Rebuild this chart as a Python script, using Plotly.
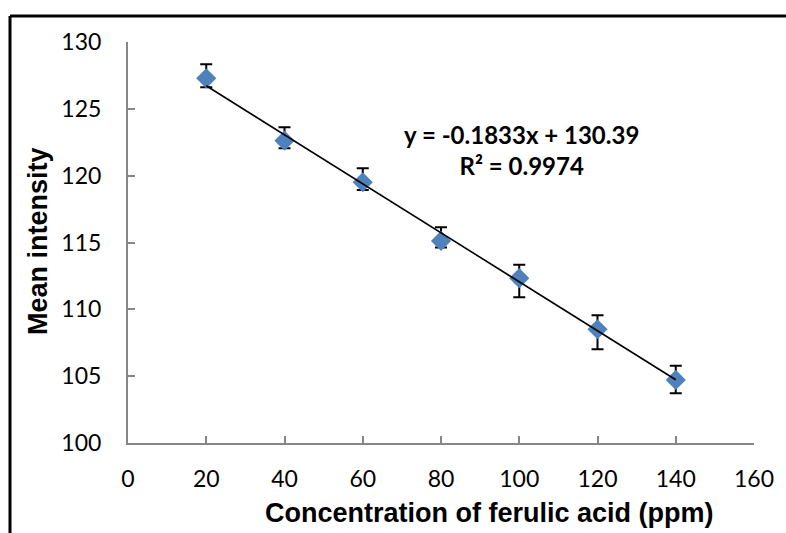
import plotly.graph_objects as go

# Data
concentration = [20, 40, 60, 80, 100, 120, 140]
mean_intensity = [127.28, 122.62, 119.51, 115.12, 112.33, 108.51, 104.72]
err_plus = [1.05, 1.00, 1.04, 1.02, 1.00, 1.05, 1.05]
err_minus = [0.67, 0.57, 0.58, 0.50, 1.43, 1.49, 0.99]

slope = -0.1833
intercept = 130.39
r_squared = 0.9974

x_ticks = [0, 20, 40, 60, 80, 100, 120, 140, 160]
y_ticks = [100, 105, 110, 115, 120, 125, 130]

x_title = "Concentration of ferulic acid (ppm)"
y_title = "Mean intensity"

trend_x = [concentration[0], concentration[-1]]
trend_y = [slope * v + intercept for v in trend_x]

fig = go.Figure()
fig.add_trace(go.Scatter(
    x=concentration, y=mean_intensity, mode="markers",
    marker=dict(symbol="diamond", size=15.5, color="#4F81BD", line=dict(width=0)),
    error_y=dict(type="data", symmetric=False, array=err_plus, arrayminus=err_minus,
                 color="black", thickness=2, width=6),
    showlegend=False, cliponaxis=False,
))
fig.add_trace(go.Scatter(
    x=trend_x, y=trend_y, mode="lines",
    line=dict(color="black", width=1.6), showlegend=False,
))

eq_text = f"y = {slope}x + {intercept}<br>R² = {r_squared}"
fig.add_annotation(
    x=100.7, y=121.95, xref="x", yref="y", text=eq_text, showarrow=False,
    font=dict(family="Lato", size=24, color="black", weight="bold"), align="center",
)

L, R, T, B = 128, 32, 42, 90
W, H = 786, 533
pw, ph = W - L - R, H - T - B

def px_x(p):
    return (p - L) / pw

def px_y(p):
    return (H - B - p) / ph

title_font = dict(family="Liberation Sans", size=27, color="black", weight="bold")
fig.add_annotation(x=px_x(489), y=px_y(513), xref="paper", yref="paper",
                   text=x_title, showarrow=False, font=title_font,
                   xanchor="center", yanchor="middle")
fig.add_annotation(x=px_x(38), y=px_y(241), xref="paper", yref="paper",
                   text=y_title, showarrow=False, font=title_font, textangle=-90,
                   xanchor="center", yanchor="middle")

frame = dict(color="black", width=3)
fig.add_shape(type="line", xref="paper", yref="paper",
              x0=px_x(10), x1=px_x(790), y0=px_y(16), y1=px_y(16), line=frame)
fig.add_shape(type="line", xref="paper", yref="paper",
              x0=px_x(10), x1=px_x(10), y0=px_y(16), y1=px_y(540), line=frame)

axis_color = "#868686"
fig.update_xaxes(
    range=[0, 160], tickvals=x_ticks, ticktext=[str(v) for v in x_ticks],
    showgrid=False, zeroline=False, showline=True, linecolor=axis_color, linewidth=2,
    ticks="inside", ticklen=7, tickwidth=2, tickcolor=axis_color,
    tickfont=dict(family="Lato", size=23, color="black"), ticklabelstandoff=14,
)
fig.update_yaxes(
    range=[100, 130], tickvals=y_ticks, ticktext=[str(v) for v in y_ticks],
    showgrid=False, zeroline=False, showline=True, linecolor=axis_color, linewidth=2,
    ticks="inside", ticklen=7, tickwidth=2, tickcolor=axis_color,
    tickfont=dict(family="Lato", size=23, color="black"), ticklabelstandoff=20,
)
fig.update_layout(
    width=W, height=H, margin=dict(l=L, r=R, t=T, b=B),
    paper_bgcolor="white", plot_bgcolor="white",
)
fig.write_html("out.html")
